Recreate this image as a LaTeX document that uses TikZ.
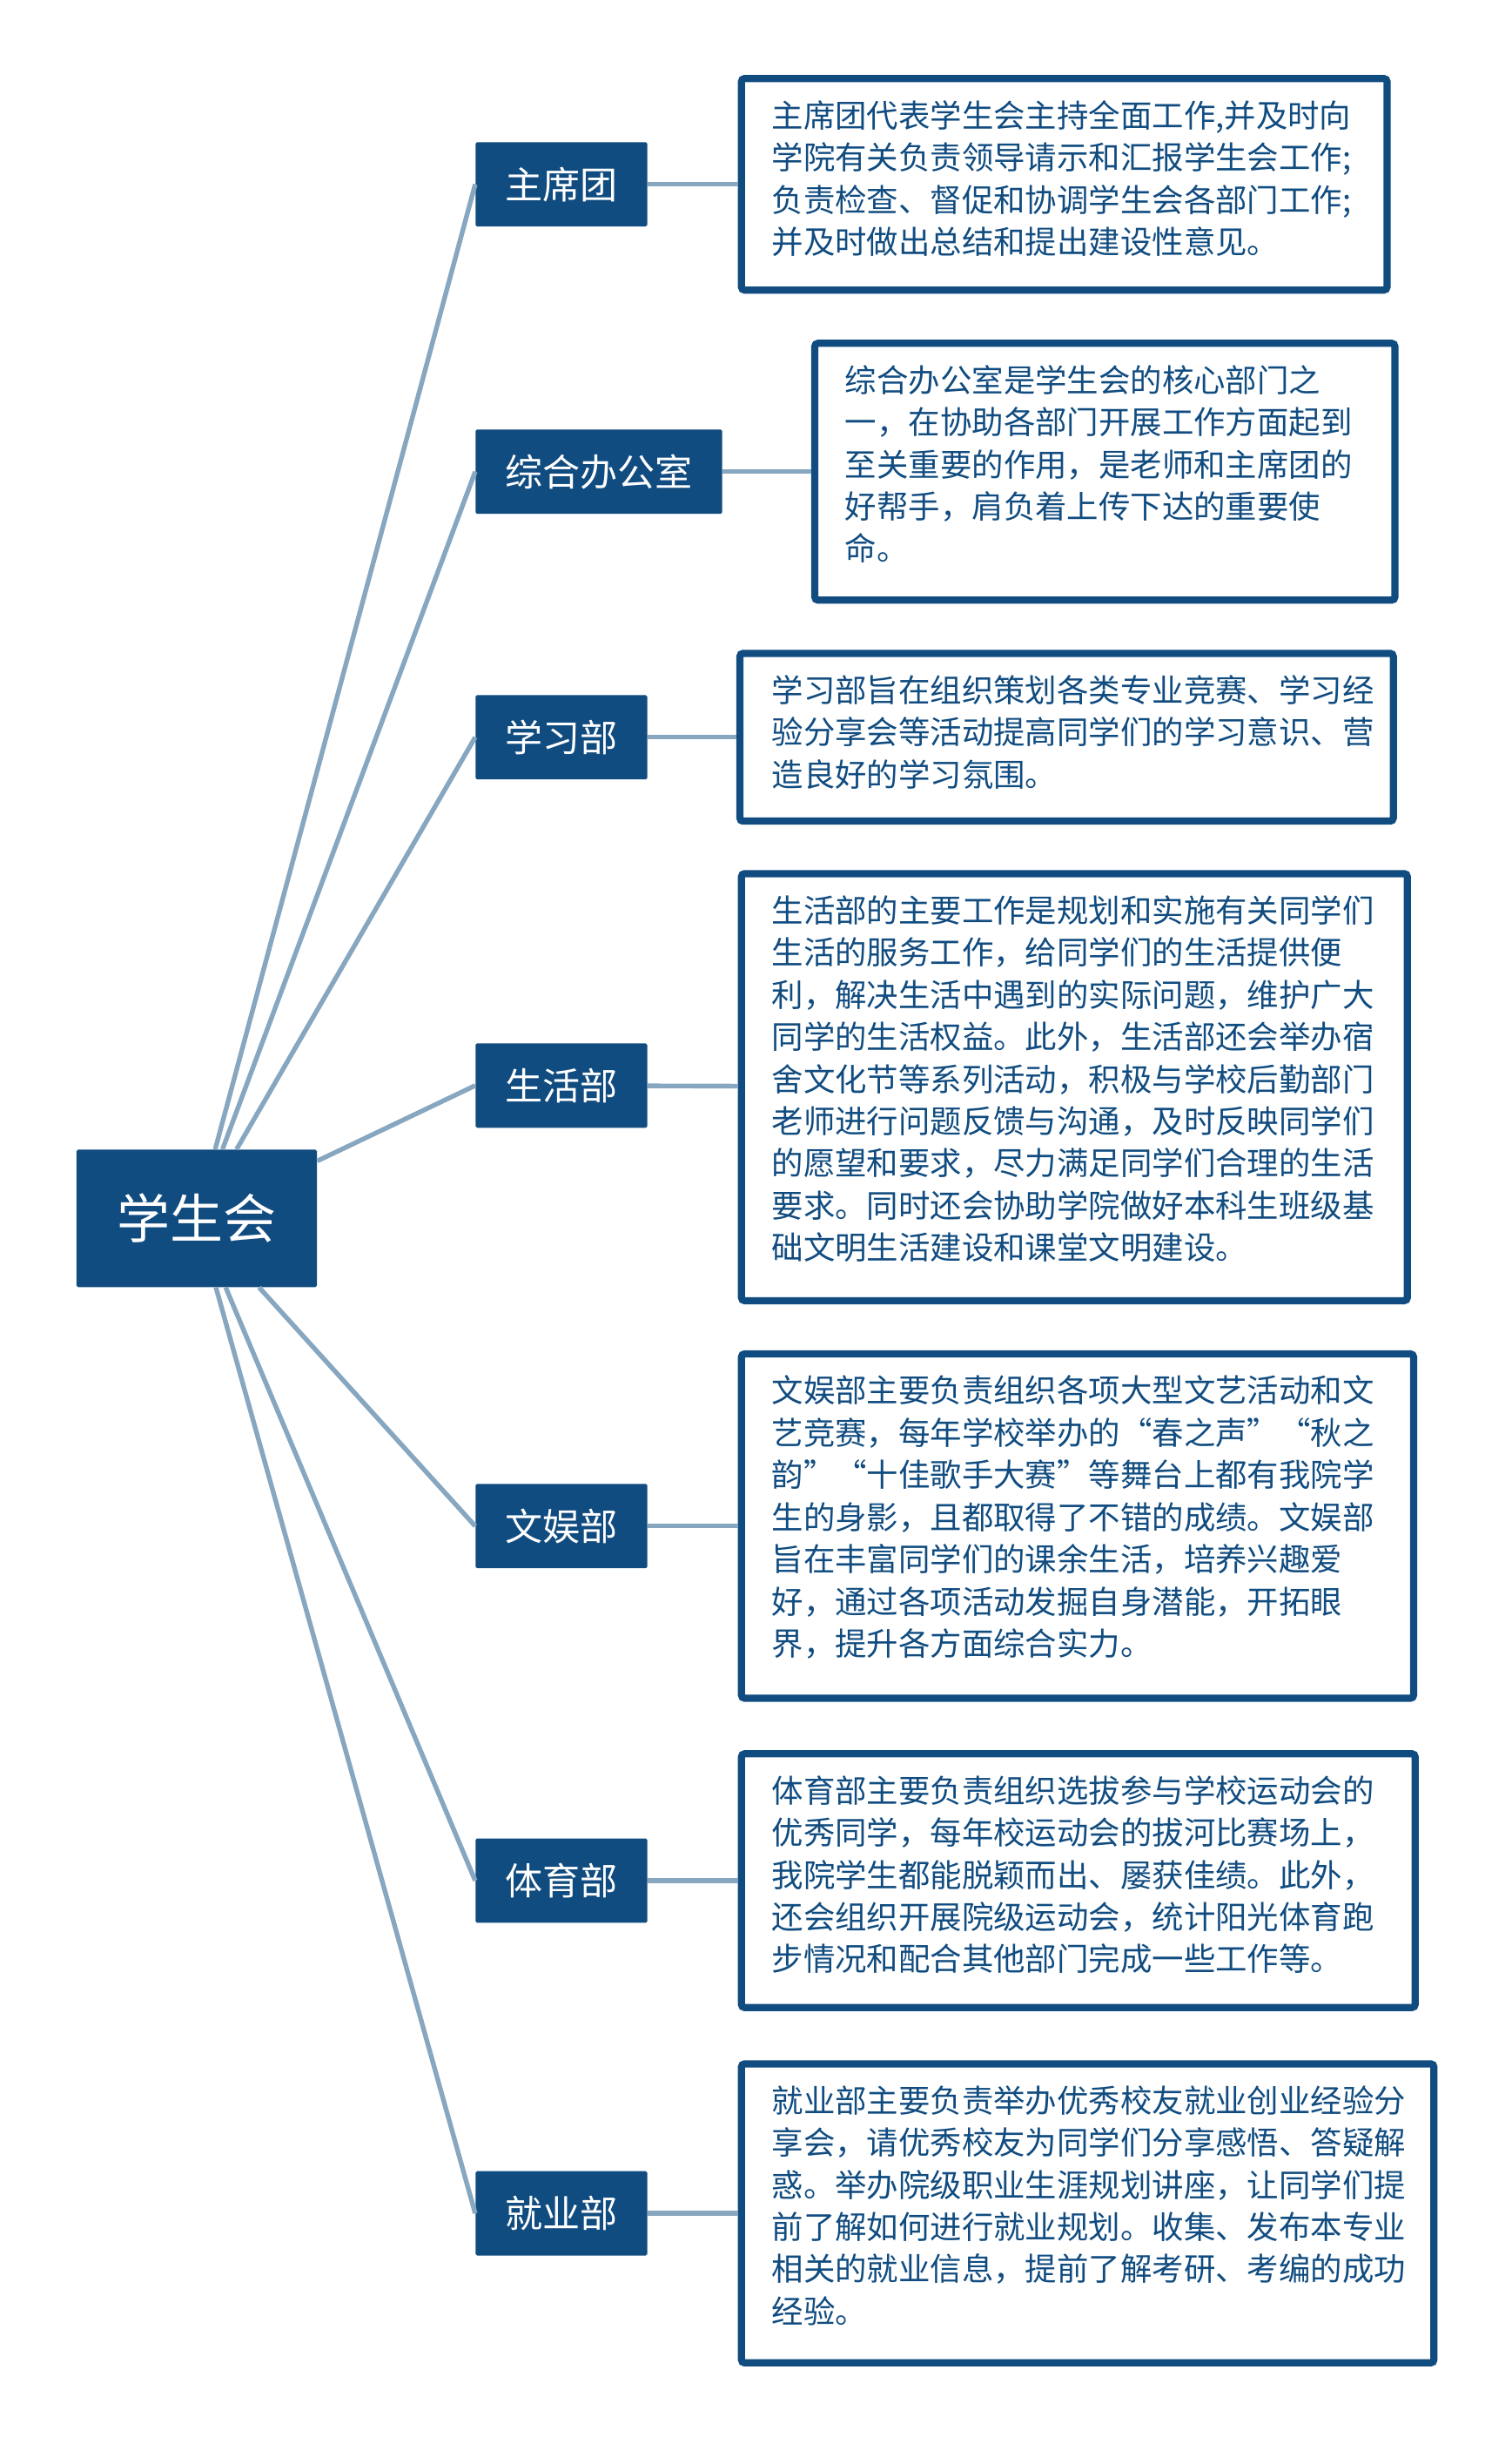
\documentclass[tikz,border=0pt]{standalone}
\usepackage{fontspec}
\setmainfont{Noto Sans CJK SC}
\usepackage{tikz}
\definecolor{deepblue}{HTML}{114C80}
\definecolor{linkblue}{HTML}{87A6BF}

\begin{document}
\begin{tikzpicture}[x=1pt,y=-1pt,
		dept/.style={fill=deepblue,text=white,font=\fontsize{24pt}{28pt}\selectfont,minimum height=54pt,inner xsep=19pt,rounded corners=1pt,anchor=west},
		info/.style={draw=deepblue,line width=4.6pt,rounded corners=2pt},
		infotext/.style={text=deepblue,font=\fontsize{20.3pt}{27pt}\selectfont,text width=440pt,align=left,inner sep=0pt,anchor=north west},
		link/.style={draw=linkblue,line width=3pt}]
		\useasboundingbox (0,0) rectangle (968.2,1560.2);

		\node[fill=deepblue,text=white,font=\fontsize{34pt}{40pt}\selectfont,minimum width=154pt,minimum height=88pt,rounded corners=1pt] (xsh) at (126,780) {学生会};

		\node[dept] (zxt) at (304.3,118) {主席团};
		\node[dept] (zhb) at (304.3,302) {综合办公室};
		\node[dept] (xxb) at (304.3,472) {学习部};
		\node[dept] (shb) at (304.3,695) {生活部};
		\node[dept] (wyb) at (304.3,977) {文娱部};
		\node[dept] (tyb) at (304.3,1204) {体育部};
		\node[dept] (jyb) at (304.3,1417) {就业部};

		\node[info,minimum width=413.4pt,minimum height=135.4pt] (zxtI) at (681.5,118) {};
		\node[info,minimum width=371.4pt,minimum height=164.4pt] (zhbI) at (707.5,302) {};
		\node[info,minimum width=418.4pt,minimum height=107.4pt] (xxbI) at (683,472) {};
		\node[info,minimum width=426.4pt,minimum height=273.4pt] (shbI) at (688,696) {};
		\node[info,minimum width=430.4pt,minimum height=220.4pt] (wybI) at (690,977) {};
		\node[info,minimum width=431.4pt,minimum height=162.4pt] (tybI) at (690.5,1204) {};
		\node[info,minimum width=443.4pt,minimum height=191.4pt] (jybI) at (696.5,1417) {};

		\node[infotext] (zxtT) at (494,64) {主席团代表学生会主持全面工作,并及时向\\学院有关负责领导请示和汇报学生会工作;\\负责检查、督促和协调学生会各部门工作;\\并及时做出总结和提出建设性意见。};
		\node[infotext] (zhbT) at (541,233.5) {综合办公室是学生会的核心部门之\\一，在协助各部门开展工作方面起到\\至关重要的作用，是老师和主席团的\\好帮手，肩负着上传下达的重要使\\命。};
		\node[infotext] (xxbT) at (494,432) {学习部旨在组织策划各类专业竞赛、学习经\\验分享会等活动提高同学们的学习意识、营\\造良好的学习氛围。};
		\node[infotext] (shbT) at (494,573) {生活部的主要工作是规划和实施有关同学们\\生活的服务工作，给同学们的生活提供便\\利，解决生活中遇到的实际问题，维护广大\\同学的生活权益。此外，生活部还会举办宿\\舍文化节等系列活动，积极与学校后勤部门\\老师进行问题反馈与沟通，及时反映同学们\\的愿望和要求，尽力满足同学们合理的生活\\要求。同时还会协助学院做好本科生班级基\\础文明生活建设和课堂文明建设。};
		\node[infotext] (wybT) at (494,880.5) {文娱部主要负责组织各项大型文艺活动和文\\艺竞赛，每年学校举办的“春之声”“秋之\\韵”“十佳歌手大赛”等舞台上都有我院学\\生的身影，且都取得了不错的成绩。文娱部\\旨在丰富同学们的课余生活，培养兴趣爱\\好，通过各项活动发掘自身潜能，开拓眼\\界，提升各方面综合实力。};
		\node[infotext] (tybT) at (494,1136.5) {体育部主要负责组织选拔参与学校运动会的\\优秀同学，每年校运动会的拔河比赛场上，\\我院学生都能脱颖而出、屡获佳绩。此外，\\还会组织开展院级运动会，统计阳光体育跑\\步情况和配合其他部门完成一些工作等。};
		\node[infotext] (jybT) at (494,1335) {就业部主要负责举办优秀校友就业创业经验分\\享会，请优秀校友为同学们分享感悟、答疑解\\惑。举办院级职业生涯规划讲座，让同学们提\\前了解如何进行就业规划。收集、发布本专业\\相关的就业信息，提前了解考研、考编的成功\\经验。};

		\begin{scope}[link]
			\draw[-] (xsh) to (zxt.west);
			\draw[-] (xsh) to (zhb.west);
			\draw[-] (xsh) to (xxb.west);
			\draw[-] (xsh) to (shb.west);
			\draw[-] (xsh) to (wyb.west);
			\draw[-] (xsh) to (tyb.west);
			\draw[-] (xsh) to (jyb.west);

			\draw[-] (zxt) to (zxtI);
			\draw[-] (zhb) to (zhbI);
			\draw[-] (xxb) to (xxbI);
			\draw[-] (shb) to (shbI);
			\draw[-] (wyb) to (wybI);
			\draw[-] (tyb) to (tybI);
			\draw[-] (jyb) to (jybI);
		\end{scope}
	\end{tikzpicture}
\end{document}
